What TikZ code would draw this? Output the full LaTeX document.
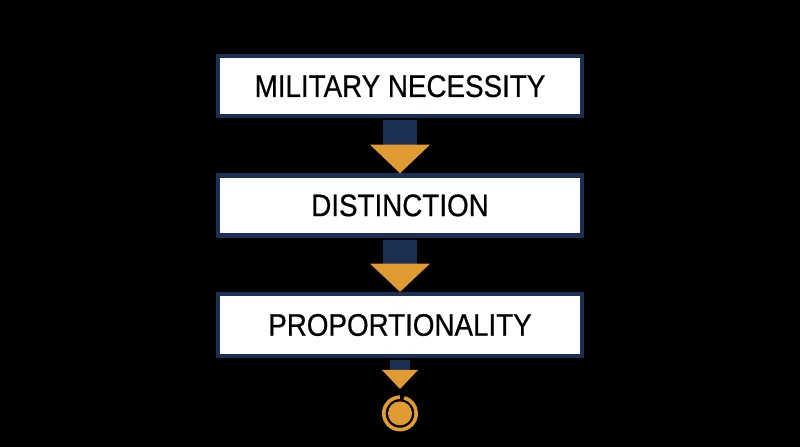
\documentclass[tikz,border=0pt]{standalone}
\usepackage{fontspec}
\newfontfamily\boxfont[FakeStretch=0.89,FakeBold=0.6]{Liberation Sans}
\usetikzlibrary{calc}
\definecolor{navy}{RGB}{28,48,84}
\definecolor{gold}{RGB}{224,155,50}
\tikzset{
  stage/.style={draw=navy,line width=3pt,fill=white,minimum width=9.1cm,minimum height=1.5cm,
    font=\boxfont\fontsize{22.2}{24}\selectfont,text=black},
}

\begin{document}
\begin{tikzpicture}
  \fill[black] (0,0) rectangle (20,11.175); %background
  \node[stage] (mil) at (10,9.02) {MILITARY NECESSITY};
  \node[stage] (dis) at (10,6.04) {DISTINCTION};
  \node[stage,minimum height=1.55cm] (pro) at (10,3.05) {PROPORTIONALITY};
  \foreach \A/\B in {mil/dis,dis/pro}{
    \coordinate (S) at ($(\A.south)!0.48!(\B.north)$);
    \fill[navy] ($(\A.south)+(-0.425,-1.5pt)$) rectangle ($(S)+(0.425,0)$); %stem
    \fill[gold] ($(S)+(-0.75,0)$) -- ($(S)+(0.75,0)$) -- (\B.north) -- cycle; %head
  }
  \coordinate (S) at (10,1.925);
  \coordinate (tip) at (10,1.45);
  \fill[navy] ($(pro.south)+(-0.25,-1.5pt)$) rectangle ($(S)+(0.25,0)$);
  \fill[gold] ($(S)+(-0.45,0)$) -- ($(S)+(0.45,0)$) -- (tip) -- cycle;
  \draw[gold,line width=2.6pt] (10,0.84)+(90:0.405) arc (90:435:0.405); %ring
  \fill[gold] (10,0.84) circle (0.3);
\end{tikzpicture}
\end{document}
